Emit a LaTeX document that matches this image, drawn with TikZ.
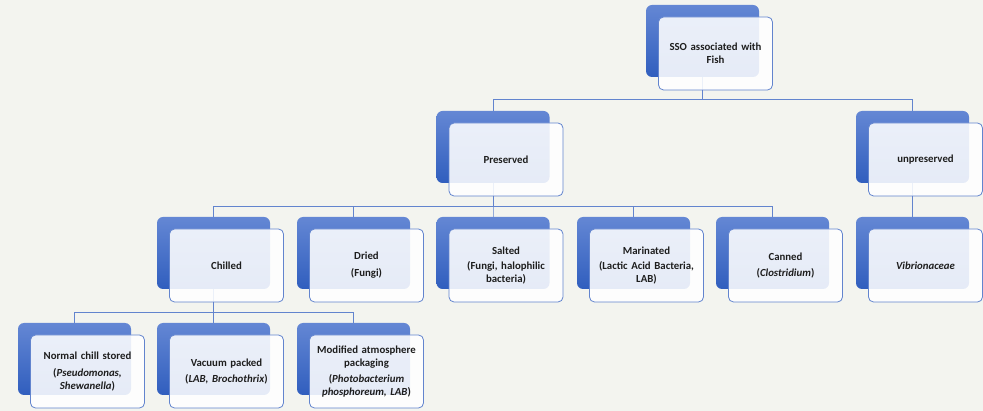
\documentclass[tikz,border=0pt]{standalone}
\usepackage{fontspec}
\setmainfont{Carlito}
\usetikzlibrary{backgrounds}
\pgfdeclarelayer{bg}
\pgfsetlayers{bg,main}
\definecolor{bgc}{RGB}{243,244,239}
\definecolor{bt}{RGB}{100,135,212}
\definecolor{bb}{RGB}{48,94,190}
\definecolor{fb}{RGB}{98,132,206}
\definecolor{ln}{RGB}{98,132,206}
\definecolor{txt}{RGB}{30,30,30}
\newcommand\mkbox[3]{%
  \node[backbox] (#1-b) at (#2) {};
  \node[frontbox] (#1) at ([shift={(13,12.5)}]#1-b.center) {#3};}
\begin{document}
\begin{tikzpicture}[x=1pt,y=-1pt,
  backbox/.style={rectangle, rounded corners=6pt, minimum width=113pt, minimum height=72pt,
    top color=bt, bottom color=bb, inner sep=0pt},
  frontbox/.style={rectangle, rounded corners=5pt, minimum width=114pt, minimum height=73pt,
    draw=fb, line width=0.8pt, fill=white, fill opacity=0.88, text opacity=1, text=txt,
    align=center, text width=108pt, inner sep=0pt,
    font=\fontsize{10.8}{12.8}\selectfont\bfseries},
  link/.style={draw=ln, line width=0.9pt}]
\useasboundingbox (0,0) rectangle (983,411);
% nodes
\mkbox{sso}{702.5,41}{SSO associated with\\Fish}
\mkbox{pres}{493,147}{Preserved}
\mkbox{unp}{912.5,147}{unpreserved}
\mkbox{chil}{213.5,253}{Chilled}
\mkbox{dried}{353.5,253}{Dried\\[4pt](Fungi)}
\mkbox{salt}{493,253}{Salted\\[3pt](Fungi, halophilic\\bacteria)}
\mkbox{mar}{633.5,253}{Marinated\\[3pt](Lactic Acid Bacteria,\\LAB)}
\mkbox{can}{772.5,253}{Canned\\[4pt](\textit{Clostridium})}
\mkbox{vib}{912.5,253}{\textit{Vibrionaceae}}
\mkbox{norm}{74.5,359}{Normal chill stored\\[4pt](\textit{Pseudomonas,}\\\textit{Shewanella})}
\mkbox{vac}{213.5,359}{Vacuum packed\\[4pt](\textit{LAB, Brochothrix})}
\mkbox{mod}{353.5,359}{Modified atmosphere\\packaging\\[4pt](\textit{Photobacterium}\\\textit{phosphoreum, LAB})}
% connectors on background layer
\begin{pgfonlayer}{bg}
  \fill[bgc] (0,0) rectangle (983,411);
  \coordinate (bar1) at (0,99);
  \coordinate (bar2) at (0,206);
  \coordinate (bar3) at (0,312);
  \foreach \c in {pres,unp}
    \draw[link] (sso-b.center) -- (sso-b.center |- bar1) -| (\c-b.center);
  \foreach \c in {chil,dried,salt,mar,can}
    \draw[link] (pres-b.center) -- (pres-b.center |- bar2) -| (\c-b.center);
  \draw[link] (unp-b.center) -- (vib-b.center);
  \foreach \c in {norm,vac,mod}
    \draw[link] (chil-b.center) -- (chil-b.center |- bar3) -| (\c-b.center);
\end{pgfonlayer}
\end{tikzpicture}
\end{document}
